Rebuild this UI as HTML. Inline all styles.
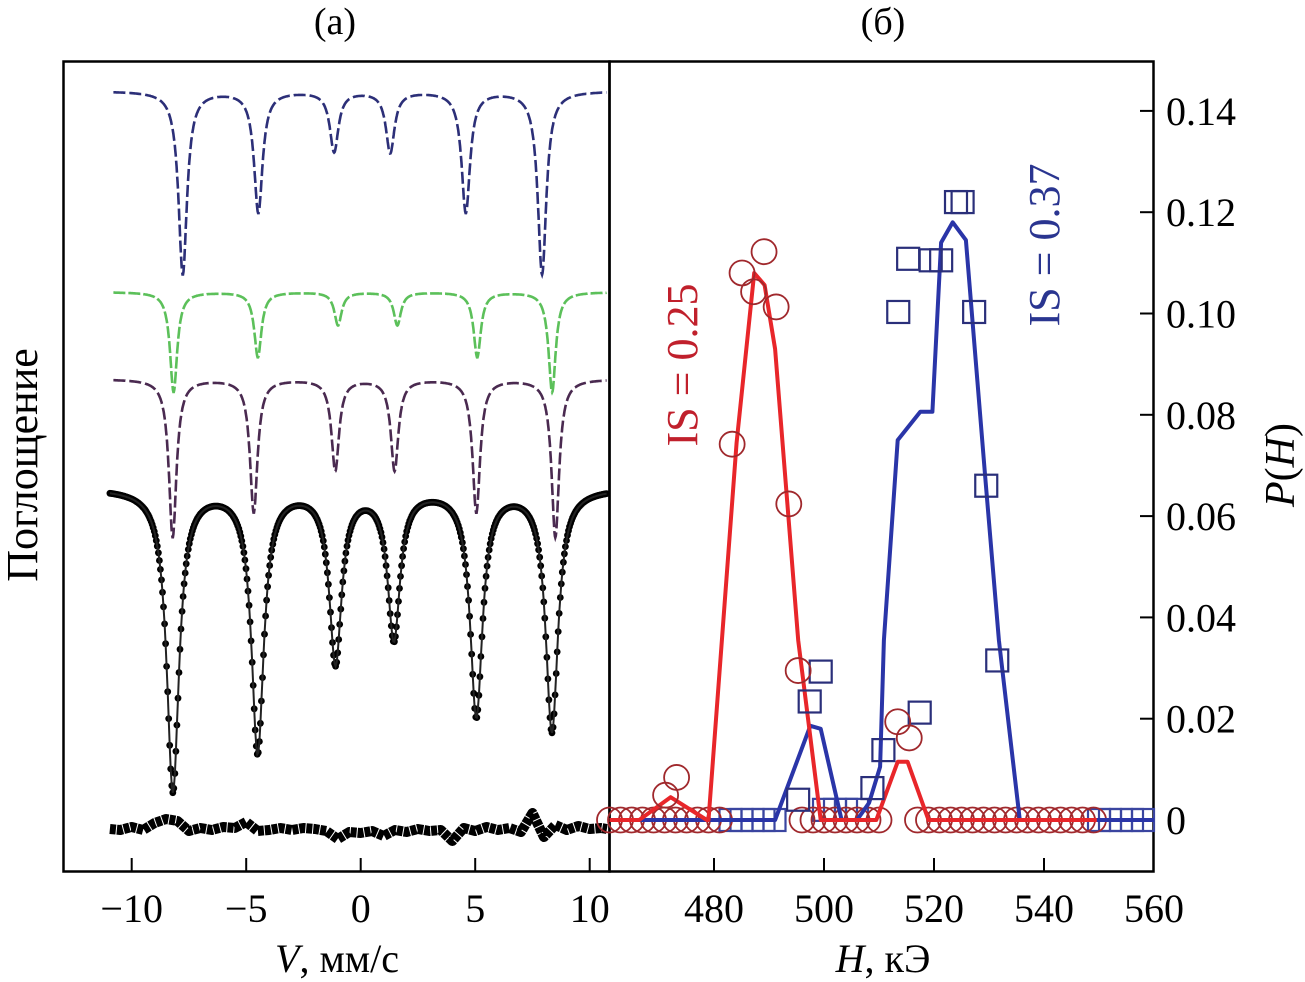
<!DOCTYPE html>
<html><head><meta charset="utf-8"><style>
html,body{margin:0;padding:0;background:#fff;}
svg{display:block;font-family:"Liberation Serif",serif;}
</style></head><body>
<svg id="fig" width="1305" height="982" viewBox="0 0 1305 982">
<rect x="0" y="0" width="1305" height="982" fill="#fff"/>
<g id="left"></g>
<g id="right"></g>
<text x="335" y="34" font-size="38" text-anchor="middle">(а)</text>
<text x="883" y="34" font-size="38" text-anchor="middle">(б)</text>
<text transform="translate(37,465) rotate(-90)" font-size="44" text-anchor="middle">Поглощение</text>
<text transform="translate(1294,465) rotate(-90)" font-size="42" text-anchor="middle"><tspan font-style="italic">P</tspan>(<tspan font-style="italic">H</tspan>)</text>
<text x="337" y="972" font-size="40" text-anchor="middle"><tspan font-style="italic">V</tspan>, мм/с</text>
<text x="883" y="972" font-size="40" text-anchor="middle"><tspan font-style="italic">H</tspan>, кЭ</text>
<text transform="translate(697,365) rotate(-90)" font-size="44" fill="#c0202c" text-anchor="middle">IS = 0.25</text>
<text transform="translate(1059,245) rotate(-90)" font-size="44" fill="#2a3590" text-anchor="middle">IS = 0.37</text>
</svg>
<script>
// ---- Left panel data (sextet parameters) ----
const vTicks = [-10, -5, 0, 5, 10];
const bluePos = [-7.77, -4.47, -1.16, 1.29, 4.59, 7.92];
const blueDepth = [183, 121, 60, 61, 121, 183];
const greenPos = [-8.17, -4.49, -0.99, 1.6, 5.09, 8.36];
const greenDepth = [100, 65, 33, 33, 65, 100];
const purplePos = [-8.21, -4.67, -1.11, 1.48, 5.05, 8.5];
const purpleDepth = [158, 133, 91, 91, 133, 158];
const expPos = [-8.2, -4.5, -1.1, 1.45, 5.05, 8.35];
const expDepth = [302, 262, 172, 148, 226, 242];
const residV = [-11,-10.5,-10,-9.5,-9,-8.5,-8,-7.5,-7,-6.5,-6,-5.5,-5,-4.5,-4,-3.5,-3,-2.5,-2,-1.5,-1,-0.5,0,0.5,1,1.5,2,2.5,3,3.5,4,4.5,5,5.5,6,6.5,7,7.5,8,8.5,9,9.5,10,10.5,11];
const residVal = [0,1,-2,1,-6,-10,-8,2,-1,1,-2,-1,-7,2,1,-1,1,-1,0,2,10,3,4,2,7,1,3,0,2,1,12,-1,2,-2,1,-1,3,-16,8,-4,1,-3,0,-1,0];

// ---- Right panel data ----
const hTicks = [480, 500, 520, 540, 560];
const pTicks = [0, 0.02, 0.04, 0.06, 0.08, 0.10, 0.12, 0.14];
const pTickLabels = ["0", "0.02", "0.04", "0.06", "0.08", "0.10", "0.12", "0.14"];
const redFitH = [461, 466.4, 472.1, 478.7, 479, 484.1, 487.3, 489.2, 491.1, 495.3, 499.4, 509.5, 513.4, 515.2, 519, 549.6];
const redFitP = [0, 0, 0.0045, 0, 0, 0.0745, 0.108, 0.1056, 0.093, 0.0355, 0, 0, 0.0115, 0.0115, 0, 0];
const blueFitH = [461, 491.1, 497.5, 499.4, 503.2, 506, 508.2, 510.2, 510.9, 513.4, 517.5, 519.7, 521.3, 523.4, 525.8, 529.3, 531.8, 535.6, 560];
const blueFitP = [0, 0, 0.0186, 0.018, 0, 0, 0.0034, 0.0105, 0.0355, 0.075, 0.0806, 0.0806, 0.114, 0.118, 0.1145, 0.068, 0.0355, 0, 0];
const redPtH = [489.1, 485.1, 487.2, 491.3, 483.3, 493.6, 495.3, 513.4, 515.5, 473.2, 471.2];
const redPtP = [0.1122, 0.108, 0.1043, 0.1013, 0.0742, 0.0624, 0.0295, 0.0194, 0.0162, 0.0084, 0.0049];
const redBaseH = [461,463,465,467,469,471,473,475,477,479,481,496,498,500,502,504,506,508,510,517,519,521,523,525,527,529,531,533,535,537,539,541,543,545,547,549];
const bluePtH = [524, 525.2, 515.3, 519.4, 521.3, 513.5, 527.3, 529.5, 531.5, 499.4, 497.4, 517.4, 510.8, 508.8, 495.3];
const bluePtP = [0.122, 0.122, 0.1108, 0.1105, 0.1105, 0.1003, 0.1003, 0.066, 0.0315, 0.0293, 0.0234, 0.0212, 0.0138, 0.0063, 0.004];
const blueBaseH = [483, 485, 487, 489, 491, 500, 502, 504, 506, 550, 552, 554, 556, 558];
const blueBaseP = [0, 0, 0, 0, 0, 0.002, 0.002, 0.002, 0.002, 0, 0, 0, 0, 0];

const NS = "http://www.w3.org/2000/svg";
function mk(parent, tag, attrs) {
  const e = document.createElementNS(NS, tag);
  for (const k in attrs) e.setAttribute(k, attrs[k]);
  parent.appendChild(e);
  return e;
}
const L = document.getElementById('left');
const R = document.getElementById('right');

const vx = v => 360.7 + v * 22.9;
function lor(v, pos, depth, w) {
  let s = 0;
  for (let i = 0; i < pos.length; i++) { const d = (v - pos[i]) / (w / 2); s += depth[i] / (1 + d * d); }
  return s;
}
function curve(pos, depth, w, base, color, dash, name) {
  let d = "";
  for (let v = -10.8; v <= 10.75; v += 0.02) {
    d += (d ? "L" : "M") + vx(v).toFixed(1) + "," + (base + lor(v, pos, depth, w)).toFixed(1);
  }
  const p = mk(L, 'path', {d: d, fill: 'none', stroke: color, 'stroke-width': 2.6, 'stroke-dasharray': dash});
  
  
}
curve(bluePos, blueDepth, 0.45, 91, '#2c2f78', '12 4', 'subspectrum-blue');
curve(greenPos, greenDepth, 0.38, 292, '#5cc05a', '12 3', 'subspectrum-green');
curve(purplePos, purpleDepth, 0.4, 379, '#4a2a50', '12 4', 'subspectrum-purple');

let ed = "";
const expG = mk(L, 'g', {fill: '#000'});


for (let v = -10.95; v <= 10.75; v += 0.045) {
  const y = 488 + lor(v, expPos, expDepth, 0.65);
  ed += (ed ? "L" : "M") + vx(v).toFixed(1) + "," + y.toFixed(1);
  mk(expG, 'circle', {cx: vx(v).toFixed(1), cy: y.toFixed(1), r: 3.4});
}
const ep = mk(L, 'path', {d: ed, fill: 'none', stroke: '#222', 'stroke-width': 2});



let rd = "";
for (let i = 0; i < residV.length; i++) {
  const v = Math.max(-10.95, Math.min(10.75, residV[i]));
  rd += (rd ? "L" : "M") + vx(v).toFixed(1) + "," + (829 + residVal[i]).toFixed(1);
}
const rp = mk(L, 'path', {d: rd, fill: 'none', stroke: '#000', 'stroke-width': 10, 'stroke-linejoin': 'round', 'stroke-dasharray': '6 1'});



const lf = mk(L, 'rect', {x: 63.5, y: 61.5, width: 546, height: 810, fill: 'none', stroke: '#000', 'stroke-width': 2.5});


vTicks.forEach(t => {
  const ln = mk(L, 'line', {x1: vx(t), x2: vx(t), y1: 872, y2: 858, stroke: '#000', 'stroke-width': 2});
  
  
  const tx = mk(L, 'text', {x: vx(t), y: 922, 'font-size': 40, 'text-anchor': 'middle'});
  tx.textContent = t < 0 ? '\u2212' + Math.abs(t) : String(t);
  
  
});

const hx = h => 714 + (h - 480) * 5.5;
const py = p => 820 - p * 5065;
const rf = mk(R, 'rect', {x: 609.5, y: 61.5, width: 544, height: 810, fill: 'none', stroke: '#000', 'stroke-width': 2.5});


hTicks.forEach(t => {
  if (t < 560) {
    const ln = mk(R, 'line', {x1: hx(t), x2: hx(t), y1: 872, y2: 858, stroke: '#000', 'stroke-width': 2});
    
    
  }
  const tx = mk(R, 'text', {x: hx(t), y: 922, 'font-size': 40, 'text-anchor': 'middle'});
  tx.textContent = String(t);
  
  
});
pTicks.forEach((t, i) => {
  const ln = mk(R, 'line', {x1: 1154, x2: 1140, y1: py(t), y2: py(t), stroke: '#000', 'stroke-width': 2});
  
  
  const tx = mk(R, 'text', {x: 1166, y: py(t) + 14, 'font-size': 40});
  tx.textContent = pTickLabels[i];
  
  
});

const sq = (h, p, name, col) => {
  const r = mk(R, 'rect', {x: hx(h) - 11, y: py(p) - 11, width: 22, height: 22, fill: 'none', stroke: col, 'stroke-width': 2.2});
  
  
};
const ci = (h, p, name) => {
  const c = mk(R, 'circle', {cx: hx(h), cy: py(p), r: 12.5, fill: 'none', stroke: '#a0282c', 'stroke-width': 1.8});
  
  
};
blueBaseH.forEach((h, i) => sq(h, blueBaseP[i], 'blue-square-baseline', '#3a45a0'));
redBaseH.forEach(h => ci(h, 0, 'red-circle-baseline'));

function fit(H, P, col, name) {
  let d = "";
  H.forEach((h, i) => { d += (i ? "L" : "M") + hx(h).toFixed(1) + "," + py(P[i]).toFixed(1); });
  const p = mk(R, 'path', {d: d, fill: 'none', stroke: col, 'stroke-width': 4, 'stroke-linejoin': 'round'});
  
  
}
fit(blueFitH, blueFitP, '#2a35a8', 'blue-fit-line');
fit(redFitH, redFitP, '#e8262a', 'red-fit-line');

bluePtH.forEach((h, i) => sq(h, bluePtP[i], 'blue-square-point', '#2a2f7a'));
redPtH.forEach((h, i) => ci(h, redPtP[i], 'red-circle-point'));
</script>
</body></html>
